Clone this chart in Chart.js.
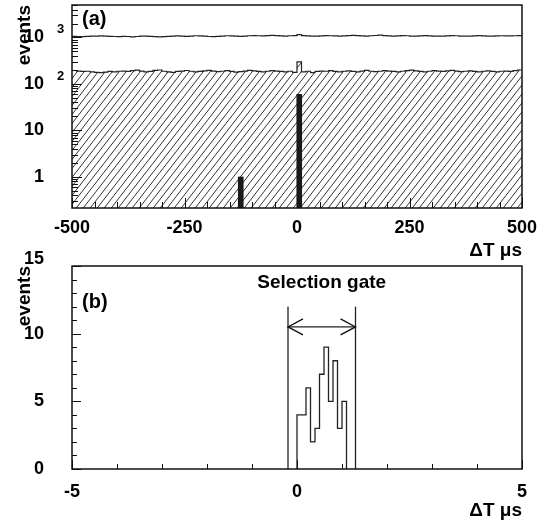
<!DOCTYPE html>
<html lang="en">
<head>
<meta charset="UTF-8">
<title>Delta T spectrum</title>
<script src="https://cdn.jsdelivr.net/npm/chart.js"></script>
<style>
  body { margin: 0; background: #fff; }
  #wrap { position: relative; width: 550px; height: 526px; }
  #topChart { position: absolute; left: 0; top: 0; }
  #bottomChart { position: absolute; left: 0; top: 240px; }
</style>
</head>
<body>
<div id="wrap">
  <canvas id="topChart" width="550" height="263"></canvas>
  <canvas id="bottomChart" width="550" height="286"></canvas>
</div>
<script>
// ---- panel (a): 10 us bins from -500 to 500 ----
var topBinStart = -500;
var topBinWidth = 10;
var allCounts = [
  1060, 1050, 1045, 1055, 1070, 1065, 1080, 1075, 1060, 1050,
  1040, 1055, 1050, 1035, 1050, 1065, 1075, 1060, 1045, 1030,
  1045, 1060, 1075, 1085, 1070, 1060, 1075, 1090, 1080, 1065,
  1050, 1045, 1060, 1075, 1090, 1080, 1065, 1055, 1075, 1090,
  1100, 1090, 1080, 1095, 1110, 1100, 1085, 1075, 1090, 1100,
  1150, 1100, 1085, 1075, 1070, 1085, 1100, 1090, 1080, 1075,
  1085, 1100, 1110, 1095, 1080, 1075, 1090, 1105, 1120, 1100,
  1085, 1075, 1085, 1100, 1090, 1075, 1065, 1080, 1095, 1085,
  1075, 1065, 1070, 1085, 1100, 1090, 1075, 1065, 1075, 1085,
  1095, 1085, 1075, 1070, 1080, 1090, 1085, 1080, 1090, 1095
];
var hatchedCounts = [
  195, 190, 186, 188, 182, 178, 176, 180, 186, 183,
  188, 190, 186, 193, 198, 190, 183, 186, 196, 200,
  188, 183, 178, 186, 190, 195, 188, 183, 186, 192,
  196, 190, 184, 188, 193, 186, 180, 184, 190, 196,
  192, 186, 183, 188, 194, 190, 186, 183, 188, 178,
  300, 182, 188, 176, 186, 190, 188, 193, 186, 183,
  188, 192, 186, 183, 190, 196, 188, 184, 188, 193,
  190, 186, 182, 188, 194, 198, 192, 186, 183, 188,
  193, 190, 186, 192, 196, 190, 184, 188, 192, 186,
  183, 188, 192, 186, 182, 188, 190, 186, 193, 200
];
var coincCenters = [-125, 5];
var coincCounts = [1, 60];
var topXTicks = 250;
var topYTicks = [1, 10, 100, 1000];

// ---- panel (b): 0.1 us bins ----
var gateBinEdges = [0, 0.1, 0.2, 0.3, 0.4, 0.5, 0.6, 0.7, 0.8, 0.9, 1.0, 1.1];
var gateCounts = [4, 4, 6, 2, 3, 7, 9, 5, 8, 3, 5];
var gateLimits = [-0.2, 1.3];
var gateHeight = 12;
var gateArrowY = 10.5;
var bottomYMax = 15;

var FONT = "'Liberation Sans', Arial, Helvetica, sans-serif";
Chart.defaults.font.family = FONT;
Chart.defaults.font.weight = 'bold';
Chart.defaults.font.size = 18;
Chart.defaults.color = '#000';

// step outline points: one point per left bin edge, plus the last right edge
function stepPoints(start, width, counts) {
  var pts = counts.map(function (c, i) { return { x: start + i * width, y: c }; });
  pts.push({ x: start + counts.length * width, y: counts[counts.length - 1] });
  return pts;
}

function hatchPattern() {
  var c = document.createElement('canvas');
  c.width = 7; c.height = 9;
  var g = c.getContext('2d');
  g.strokeStyle = '#333';
  g.lineWidth = 1;
  [-7, 0, 7].forEach(function (dx) {
    g.beginPath();
    g.moveTo(dx - 1, 9 + 9 / 7);
    g.lineTo(dx + 8, -9 / 7);
    g.stroke();
  });
  return g.createPattern(c, 'repeat');
}

function isMultiple(v, step) {
  var r = v / step;
  return Math.abs(r - Math.round(r)) < 1e-6;
}

// keep the plot area where the layout padding puts it
function noScalePadding(s) {
  s.paddingTop = 0; s.paddingBottom = 0;
  s.paddingLeft = 0; s.paddingRight = 0;
}

// frame + inward ticks, ROOT style
function drawFrame(chart, opt) {
  var ctx = chart.ctx, a = chart.chartArea, xs = chart.scales.x, ys = chart.scales.y;
  ctx.save();
  ctx.strokeStyle = '#111';
  ctx.lineWidth = 1;
  ctx.beginPath();
  var v, px, len;
  for (v = xs.min; v <= xs.max + 1e-9; v += opt.xMinor) {
    px = Math.round(xs.getPixelForValue(v)) + 0.5;
    len = isMultiple(v, opt.xMajor) ? opt.majorLen : opt.minorLen;
    ctx.moveTo(px, a.bottom);
    ctx.lineTo(px, a.bottom - len);
  }
  if (opt.log) {
    for (var d = Math.floor(Math.log10(ys.min)); d <= Math.ceil(Math.log10(ys.max)); d++) {
      for (var k = 1; k <= 9; k++) {
        v = k * Math.pow(10, d);
        if (v < ys.min || v > ys.max) continue;
        px = Math.round(ys.getPixelForValue(v)) + 0.5;
        len = k === 1 ? opt.majorLen : opt.minorLen;
        ctx.moveTo(a.left, px);
        ctx.lineTo(a.left + len, px);
      }
    }
  } else {
    for (v = ys.min; v <= ys.max + 1e-9; v += opt.yMinor) {
      px = Math.round(ys.getPixelForValue(v)) + 0.5;
      len = isMultiple(v, opt.yMajor) ? opt.majorLen : opt.minorLen;
      ctx.moveTo(a.left, px);
      ctx.lineTo(a.left + len, px);
    }
  }
  ctx.stroke();
  ctx.lineWidth = 1.5;
  ctx.strokeRect(a.left, a.top, a.right - a.left, a.bottom - a.top);
  ctx.restore();
}

var topDecor = {
  id: 'topDecor',
  afterDraw: function (chart) {
    drawFrame(chart, { xMajor: 250, xMinor: 50, log: true, majorLen: 10, minorLen: 6 });
    var ctx = chart.ctx, ys = chart.scales.y, a = chart.chartArea;
    ctx.save();
    ctx.fillStyle = '#000';
    // exponents of the 10^n labels
    ctx.font = 'bold 13px ' + FONT;
    ctx.textAlign = 'left';
    ctx.textBaseline = 'middle';
    topYTicks.forEach(function (v) {
      if (v < 100) return;
      ctx.fillText(String(Math.round(Math.log10(v))), 57, ys.getPixelForValue(v) - 8);
    });
    ctx.font = 'bold 20px ' + FONT;
    ctx.fillText('(a)', a.left + 10, a.top + 14);
    ctx.restore();
  }
};

var bottomDecor = {
  id: 'bottomDecor',
  afterDraw: function (chart) {
    drawFrame(chart, { xMajor: 5, xMinor: 1, yMajor: 5, yMinor: 1, majorLen: 9, minorLen: 5 });
    var ctx = chart.ctx, xs = chart.scales.x, ys = chart.scales.y, a = chart.chartArea;
    var x0 = xs.getPixelForValue(gateLimits[0]);
    var x1 = xs.getPixelForValue(gateLimits[1]);
    var y = ys.getPixelForValue(gateArrowY);
    ctx.save();
    ctx.strokeStyle = '#111';
    ctx.lineWidth = 1.3;
    ctx.beginPath();
    ctx.moveTo(x0 + 15, y - 8); ctx.lineTo(x0, y); ctx.lineTo(x0 + 15, y + 8);
    ctx.moveTo(x1 - 15, y - 8); ctx.lineTo(x1, y); ctx.lineTo(x1 - 15, y + 8);
    ctx.stroke();
    ctx.fillStyle = '#000';
    ctx.font = 'bold 19px ' + FONT;
    ctx.textAlign = 'center';
    ctx.textBaseline = 'middle';
    ctx.fillText('Selection gate', (x0 + x1) / 2, a.top + 17);
    ctx.textAlign = 'left';
    ctx.font = 'bold 20px ' + FONT;
    ctx.fillText('(b)', a.left + 10, a.top + 36);
    ctx.restore();
  }
};

var lineDefaults = { pointRadius: 0, borderColor: '#222', borderWidth: 1.2, fill: false, stepped: 'before' };

new Chart(document.getElementById('topChart'), {
  type: 'line',
  data: {
    datasets: [
      {
        type: 'bar',
        data: coincCenters.map(function (x, i) { return { x: x, y: coincCounts[i] }; }),
        backgroundColor: '#1a1a1a',
        barThickness: 5,
        order: 0
      },
      Object.assign({}, lineDefaults, {
        data: stepPoints(topBinStart, topBinWidth, hatchedCounts),
        fill: 'start',
        backgroundColor: hatchPattern(),
        order: 1
      }),
      Object.assign({}, lineDefaults, {
        data: stepPoints(topBinStart, topBinWidth, allCounts),
        order: 2
      })
    ]
  },
  options: {
    responsive: false,
    animation: false,
    events: [],
    layout: { padding: { left: 0, right: 28, top: 5, bottom: 0 } },
    plugins: { legend: { display: false }, tooltip: { enabled: false } },
    scales: {
      x: {
        type: 'linear',
        offset: false,
        min: -500, max: 500,
        grid: { display: false, offset: false },
        border: { display: false },
        ticks: { stepSize: topXTicks, maxRotation: 0, autoSkip: false, padding: 1 },
        title: { display: true, text: 'ΔT μs', align: 'end', font: { size: 19 }, padding: { top: 0, bottom: 1 } },
        afterFit: function (s) { s.height = 55; noScalePadding(s); }
      },
      y: {
        type: 'logarithmic',
        min: 0.215, max: 5000,
        grid: { display: false },
        border: { display: false },
        afterBuildTicks: function (s) { s.ticks = topYTicks.map(function (v) { return { value: v }; }); },
        ticks: {
          padding: 20,
          callback: function (v) { return v >= 100 ? '10' : String(v); }
        },
        title: { display: true, text: 'events', align: 'end', font: { size: 19 }, padding: { top: 13, bottom: 0 } },
        afterFit: function (s) { s.width = 72; noScalePadding(s); }
      }
    }
  },
  plugins: [topDecor]
});

var gatePoints = [{ x: gateBinEdges[0], y: 0 }].concat(
  gateCounts.map(function (c, i) { return { x: gateBinEdges[i], y: c }; }),
  [{ x: gateBinEdges[gateBinEdges.length - 1], y: 0 }]
);

new Chart(document.getElementById('bottomChart'), {
  type: 'line',
  data: {
    datasets: [
      Object.assign({}, lineDefaults, { data: gatePoints, borderWidth: 1.3 }),
      Object.assign({}, lineDefaults, { stepped: false, borderWidth: 1.3,
        data: [{ x: gateLimits[0], y: 0 }, { x: gateLimits[0], y: gateHeight }] }),
      Object.assign({}, lineDefaults, { stepped: false, borderWidth: 1.3,
        data: [{ x: gateLimits[1], y: 0 }, { x: gateLimits[1], y: gateHeight }] }),
      Object.assign({}, lineDefaults, { stepped: false, borderWidth: 1.3,
        data: [{ x: gateLimits[0], y: gateArrowY }, { x: gateLimits[1], y: gateArrowY }] })
    ]
  },
  options: {
    responsive: false,
    animation: false,
    events: [],
    layout: { padding: { left: 0, right: 28, top: 26, bottom: 0 } },
    plugins: { legend: { display: false }, tooltip: { enabled: false } },
    scales: {
      x: {
        type: 'linear',
        min: -5, max: 5,
        grid: { display: false },
        border: { display: false },
        ticks: { stepSize: 5, maxRotation: 0, autoSkip: false, padding: 4 },
        title: { display: true, text: 'ΔT μs', align: 'end', font: { size: 19 }, padding: { top: 0, bottom: 4 } },
        afterFit: function (s) { s.height = 57; noScalePadding(s); }
      },
      y: {
        type: 'linear',
        min: 0, max: bottomYMax,
        grid: { display: false },
        border: { display: false },
        ticks: {
          stepSize: 5,
          padding: 20,
          // the top label sits a little above its tick, as in the original
          callback: function (v) { return v === bottomYMax ? [String(v), ''] : String(v); },
          font: function (c) {
            return c.tick && c.tick.value === bottomYMax ? { size: 18, lineHeight: 0.75 } : { size: 18 };
          }
        },
        title: { display: true, text: 'events', align: 'end', font: { size: 19 }, padding: { top: 13, bottom: 0 } },
        afterFit: function (s) { s.width = 72; noScalePadding(s); }
      }
    }
  },
  plugins: [bottomDecor]
});
</script>
</body>
</html>
